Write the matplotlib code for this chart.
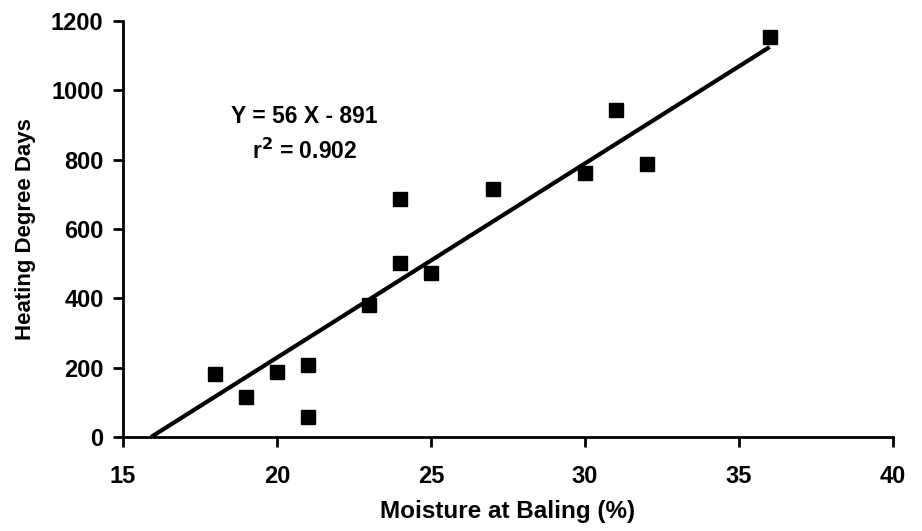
import matplotlib
matplotlib.use("Agg")
import matplotlib.pyplot as plt
import numpy as np

# moisture at baling (%) and heating degree days
moisture = [18, 19, 20, 21, 21, 23, 24, 24, 25, 27, 30, 31, 32, 36]
hdd = [183, 116, 187, 208, 58, 381, 687, 502, 473, 715, 762, 943, 788, 1154]

slope = 56
intercept = -891

plt.rcParams['font.family'] = ['Liberation Sans', 'DejaVu Sans']
plt.rcParams['font.weight'] = 'bold'

fig = plt.figure(figsize=(9.22, 5.31), dpi=100)
ax = fig.add_axes([0.1334, 0.177, 0.835, 0.7835])

ax.plot(moisture, hdd, linestyle='none', marker='s', markersize=10,
        color='black')

# regression line from the x-intercept up to the last point
x_fit = np.array([-intercept / slope, max(moisture)])
ax.plot(x_fit, slope * x_fit + intercept, color='black', linewidth=3,
        solid_capstyle='butt')

ax.set_xlim(15, 40)
ax.set_ylim(0, 1200)
ax.set_xticks([15, 20, 25, 30, 35, 40])
ax.set_yticks([0, 200, 400, 600, 800, 1000, 1200])

for side in ['top', 'right']:
    ax.spines[side].set_visible(False)
for side in ['left', 'bottom']:
    ax.spines[side].set_linewidth(2)

ax.tick_params(direction='out', length=7, width=2, labelsize=17)
ax.tick_params(axis='x', pad=13)
ax.tick_params(axis='y', pad=7)
for lab in ax.get_xticklabels() + ax.get_yticklabels():
    lab.set_fontweight('bold')

ax.set_xlabel('Moisture at Baling (%)', fontsize=17.5, fontweight='bold',
              labelpad=9)
ax.set_ylabel('Heating Degree Days', fontsize=16, fontweight='bold',
              labelpad=11)

ax.text(20.9, 925, 'Y = 56 X - 891', ha='center', va='center',
        fontsize=16.5, fontweight='bold')
ax.text(20.9, 825, r'r$^{\mathbf{2}}$ = 0.902', ha='center', va='center',
        fontsize=16.5, fontweight='bold')

fig.savefig('out.png', dpi=100)
